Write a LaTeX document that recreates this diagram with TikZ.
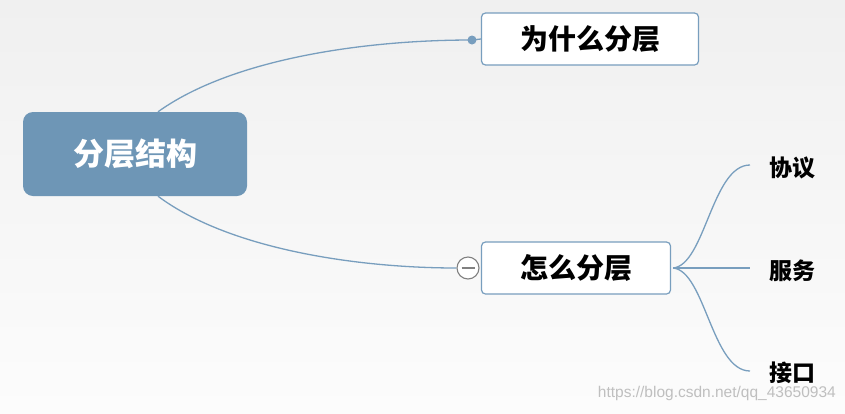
\documentclass[tikz,border=0pt]{standalone}
\usepackage{fontspec}
\newfontfamily\cjk{Noto Sans CJK SC}
\newfontfamily\wm{Liberation Sans}
\usepackage{tikz}
\usetikzlibrary{positioning}
\definecolor{rootblue}{RGB}{110,150,182}
\definecolor{linkblue}{RGB}{120,158,190}
\tikzstyle{root_n} = [rectangle, rounded corners=10pt, fill=rootblue, draw=none, text=white, font=\cjk\bfseries\fontsize{31}{34}\selectfont, minimum width=224pt, minimum height=84pt, inner sep=0pt]
\tikzstyle{topic_n} = [rectangle, rounded corners=4pt, fill=white, draw=linkblue, line width=1.2pt, text=black, font=\cjk\bfseries\fontsize{28}{32}\selectfont, minimum height=52pt, inner sep=0pt]
\tikzstyle{leaf_n} = [anchor=west, text=black, font=\cjk\bfseries\fontsize{23}{26}\selectfont, inner sep=0pt]
\tikzstyle{link} = [draw=linkblue, line width=1.3pt]
\tikzstyle{fold_n} = [circle, draw=gray, line width=1.1pt, fill=white, minimum size=22pt, inner sep=0pt]

\begin{document}
\begin{tikzpicture}[x=1pt,y=-1pt]
\shade[top color={rgb,255:red,240;green,240;blue,240}, bottom color={rgb,255:red,252;green,252;blue,252}] (0,0) rectangle (845,413);
\useasboundingbox (0,0) rectangle (845,413);
% main topics
\node [root_n] (root) at (135,154) {分层结构};
\node [topic_n, minimum width=217pt] (why) at (590,39) {为什么分层};
\node [topic_n, minimum width=189pt] (how) at (576,268) {怎么分层};
% leaves
\node [leaf_n] (proto) at (769,168) {协议};
\node [leaf_n] (serv) at (769,271) {服务};
\node [leaf_n] (iface) at (769,373) {接口};
% connectors
\coordinate (rt) at ([xshift=23pt]root.north);
\coordinate (rb) at ([xshift=23pt]root.south);
\coordinate (whyin) at (472,40);
\node [fold_n] (fold) at (468,268) {};
\draw [link] (rt) .. controls (230,60) and (360,40) .. (whyin) -- (why.west);
\fill [linkblue] (whyin) circle (4.5pt);
\draw [link] (rb) .. controls (230,250) and (360,268) .. (fold.west);
\draw [gray, line width=1.1pt] ([xshift=-6.5pt]fold.center) -- ([xshift=6.5pt]fold.center);
% leaf links
\coordinate (hub) at ([xshift=2pt]how.east);
\coordinate (l1) at (750,165);
\coordinate (l2) at (750,268);
\coordinate (l3) at (750,371);
\draw [link] (hub) .. controls (705,265) and (712,165) .. (l1);
\draw [link] (hub) -- (l2);
\draw [link] (hub) .. controls (705,271) and (712,371) .. (l3);
% watermark
\node [text=gray!50, font=\wm\fontsize{15.5}{18}\selectfont, anchor=east, inner sep=0pt] (mark) at (836,393) {https://blog.csdn.net/qq\_43650934};
\end{tikzpicture}
\end{document}
